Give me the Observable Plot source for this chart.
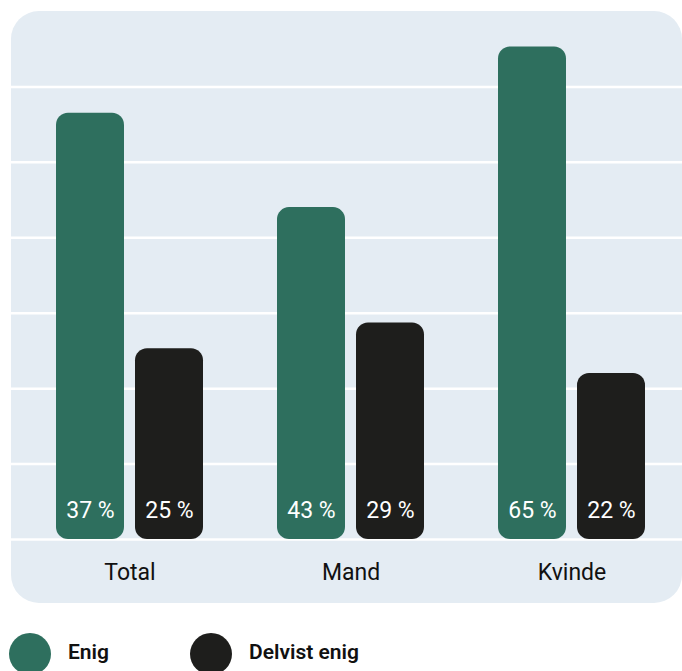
<!DOCTYPE html>
<html>
<head>
<meta charset="utf-8">
<script src="https://cdn.jsdelivr.net/npm/d3@7"></script>
<script src="https://cdn.jsdelivr.net/npm/@observablehq/plot@0.6"></script>
<style>
  html, body { margin: 0; padding: 0; background: #fff; overflow: hidden; width: 682px; height: 671px; font-family: Roboto, "Noto Sans", sans-serif; }
  #chart { position: absolute; left: 11px; top: 11px; }
  .swatch { width: 42px; height: 42px; border-radius: 50%; }
  .legend-label { position: absolute; font-size: 21px; font-weight: 600; color: #111; white-space: nowrap; }
</style>
</head>
<body>
<div id="chart"></div>
<div id="legend"></div>
<script>
const categories = ["Total", "Mand", "Kvinde"];
const series = ["Enig", "Delvist enig"];
const enigValues = [56.5, 44, 65.3];
const delvistValues = [25.3, 28.7, 22];
const enigLabels = ["37 %", "43 %", "65 %"];
const delvistLabels = ["25 %", "29 %", "22 %"];
const gridTicks = [0, 10, 20, 30, 40, 50, 60];
const colors = ["#2E6F5E", "#1E1E1C"];

const enigData = categories.map((c, i) => ({cat: c, value: enigValues[i], label: enigLabels[i]}));
const delvistData = categories.map((c, i) => ({cat: c, value: delvistValues[i], label: delvistLabels[i]}));

const plot = Plot.plot({
  width: 671,
  height: 592,
  marginTop: 0,
  marginBottom: 64,
  marginLeft: 0,
  marginRight: 0,
  style: {background: "#E4ECF3", borderRadius: "28px", fontFamily: "Roboto, sans-serif", overflow: "hidden"},
  x: {domain: categories, range: [44, 634], paddingInner: 0.335, paddingOuter: 0, axis: null, label: null},
  y: {domain: [0, 70], axis: null},
  marks: [
    Plot.ruleY(gridTicks, {stroke: "#fff", strokeWidth: 2.5}),
    Plot.barY(enigData, {x: "cat", y: "value", fill: colors[0], rx: 12, insetRight: 79}),
    Plot.barY(delvistData, {x: "cat", y: "value", fill: colors[1], rx: 12, insetLeft: 79}),
    Plot.text(enigData, {x: "cat", y: 0, text: "label", dx: -39.5, dy: -29, fill: "#fff", fontSize: 23, lineAnchor: "middle"}),
    Plot.text(delvistData, {x: "cat", y: 0, text: "label", dx: 39.5, dy: -29, fill: "#fff", fontSize: 23, lineAnchor: "middle"}),
    Plot.axisX({tickSize: 0, tickPadding: 24, fontSize: 23, fill: "#111", anchor: "bottom", label: null})
  ]
});
document.getElementById("chart").appendChild(plot);

const legend = document.getElementById("legend");
const legendPos = [{c: 9, t: 68}, {c: 190, t: 249}];
series.forEach((s, i) => {
  const sw = document.createElement("div");
  sw.className = "swatch";
  sw.style.position = "absolute";
  sw.style.left = legendPos[i].c + "px";
  sw.style.top = "633px";
  sw.style.background = colors[i];
  legend.appendChild(sw);
  const lab = document.createElement("div");
  lab.className = "legend-label";
  lab.style.left = legendPos[i].t + "px";
  lab.style.top = "640px";
  lab.textContent = s;
  legend.appendChild(lab);
});
</script>
</body>
</html>
